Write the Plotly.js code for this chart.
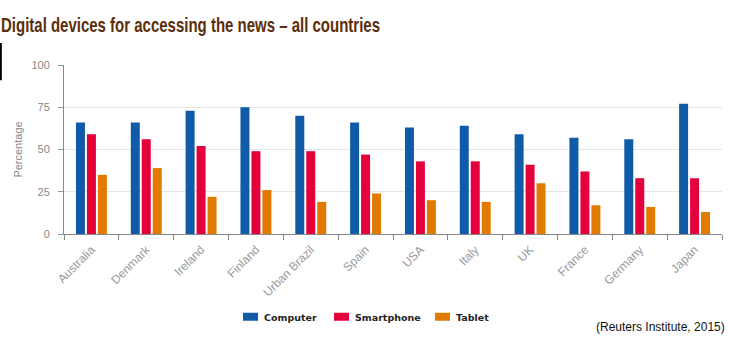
<!DOCTYPE html>
<html>
<head>
<meta charset="utf-8">
<script src="https://cdn.plot.ly/plotly-3.0.1.min.js"></script>
<style>html,body{margin:0;padding:0;background:#fff;}#chart{width:730px;height:344px;}</style>
</head>
<body>
<div id="chart"></div>
<script>
var countries = ["Australia","Denmark","Ireland","Finland","Urban Brazil","Spain","USA","Italy","UK","France","Germany","Japan"];
var computer   = [66, 66, 73, 75, 70, 66, 63, 64, 59, 57, 56, 77];
var smartphone = [59, 56, 52, 49, 49, 47, 43, 43, 41, 37, 33, 33];
var tablet     = [35, 39, 22, 26, 19, 24, 20, 19, 30, 17, 16, 13];
var seriesNames = ["Computer","Smartphone","Tablet"];
var yTicks = [0, 25, 50, 75, 100];

var colors = ["#0f5ba8","#e4003b","#e07b00"];
var legendIds = ["legend","legend2","legend3"];
var data = [computer, smartphone, tablet].map(function(v, i){
  return {type:"bar", name:seriesNames[i], x:countries, y:v, marker:{color:colors[i]},
    legend:legendIds[i], showlegend:true, hoverinfo:"x+y+name"};
});

var legendFont = {family:"DejaVu Sans, Verdana, sans-serif", size:9.5, color:"#222", weight:"bold"};
function leg(x){
  return {orientation:"h", x:x, xanchor:"left", y:-0.49, yanchor:"middle", font:legendFont,
    itemwidth:30, bgcolor:"rgba(0,0,0,0)", visible:true};
}

var layout = {
  width:730, height:344,
  showlegend:true,
  margin:{l:64, r:8, t:65, b:110},
  paper_bgcolor:"#fff", plot_bgcolor:"#fff",
  font:{family:"Liberation Sans, Arial, sans-serif", color:"#888", size:11},
  title:{text:"<b>Digital devices for accessing the news – all countries</b>",
    font:{family:"Liberation Sans, Arial, sans-serif", size:21, color:"#5c2e0a"},
    x:0.0, xanchor:"left", xref:"container", y:0.928, yref:"container", yanchor:"middle", pad:{l:1}},
  bargap:0.4, bargroupgap:0.18,
  xaxis:{type:"category", tickangle:-45, tickson:"boundaries", ticks:"outside", ticklen:5, tickcolor:"#888",
    showline:true, linecolor:"#888", linewidth:1, showgrid:false, ticklabelstandoff:3,
    tickfont:{size:12, color:"#999"}},
  yaxis:{range:[0,100], tickvals:yTicks, ticks:"outside", ticklen:5, tickcolor:"#999",
    showline:true, linecolor:"#888", gridcolor:"#e6e6e6", zeroline:false, ticklabelstandoff:6,
    tickfont:{size:11, color:"#888"},
    title:{text:"Percentage", font:{size:11, color:"#888"}, standoff:6}},
  legend:leg(0.2432),
  legend2:leg(0.3815),
  legend3:leg(0.535),
  annotations:[{text:"(Reuters Institute, 2015)", xref:"paper", yref:"paper", x:1.008, y:-0.55,
    xanchor:"right", yanchor:"middle", showarrow:false,
    font:{family:"Liberation Sans, Arial, sans-serif", size:12, color:"#111"}}],
  shapes:[{type:"line", xref:"paper", yref:"paper", x0:-0.096, x1:-0.096, y0:1.13, y1:0.91,
    line:{color:"#000", width:2}}]
};
Plotly.newPlot("chart", data, layout, {displayModeBar:false, staticPlot:true}).then(function(gd){
  var t = gd.querySelector(".gtitle");
  if (t) { t.setAttribute("textLength", "379"); t.setAttribute("lengthAdjust", "spacingAndGlyphs"); }
  gd.querySelectorAll(".legendpoints path").forEach(function(p){
    p.setAttribute("d", "M-1,-4H14V4H-1Z");
  });
});
</script>
</body>
</html>
